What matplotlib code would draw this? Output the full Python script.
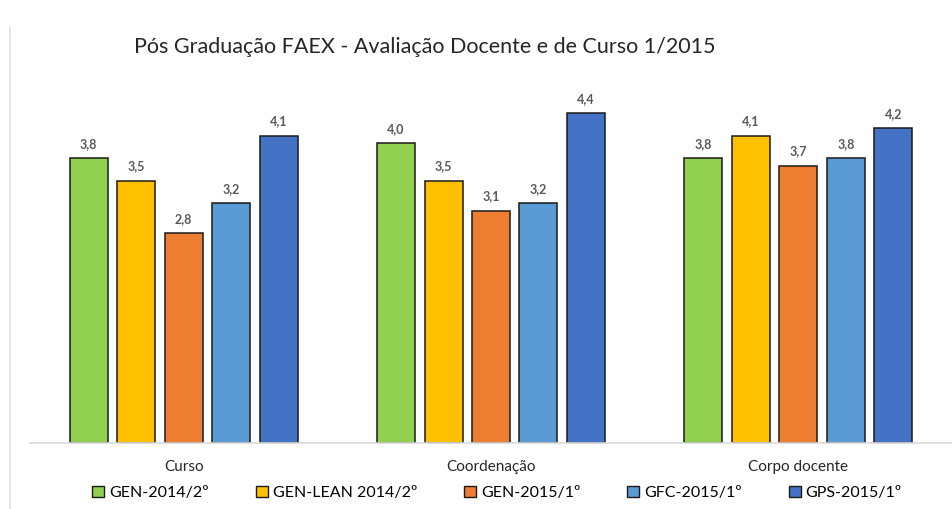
import matplotlib
matplotlib.use("Agg")
import matplotlib.pyplot as plt
import numpy as np
from matplotlib.lines import Line2D
from matplotlib.patches import Patch

plt.rcParams['font.family'] = ['Lato', 'DejaVu Sans']

categories = ["Curso", "Coordenação", "Corpo docente"]
series = ["GEN-2014/2º", "GEN-LEAN 2014/2º", "GEN-2015/1º", "GFC-2015/1º", "GPS-2015/1º"]
values = [
    [3.8, 4.0, 3.8],
    [3.5, 3.5, 4.1],
    [2.8, 3.1, 3.7],
    [3.2, 3.2, 3.8],
    [4.1, 4.4, 4.2],
]
colors = ["#92D050", "#FFC000", "#ED7D31", "#5B9BD5", "#4472C4"]
title = "Pós Graduação FAEX - Avaliação Docente e de Curso 1/2015"

fig = plt.figure(figsize=(9.52, 5.09), dpi=100)
ax = fig.add_axes([30/952, 1-443/509, 1-30/952, (443-68)/509])

x = np.arange(len(categories))
pitch = 0.1545
width = 0.1236
for i, (s, vals, c) in enumerate(zip(series, values, colors)):
    pos = x + (i - 2) * pitch
    bars = ax.bar(pos, vals, width, color=c, edgecolor="#1a1a1a", linewidth=1.1, label=s, zorder=2)
    for b, v in zip(bars, vals):
        ax.text(b.get_x() + b.get_width()/2, v + 0.11, f"{v:.1f}".replace(".", ","),
                ha="center", va="bottom", fontsize=9, fontweight="bold", color="#595959")

ax.set_xlim(-0.5, 2.5)
ax.set_ylim(0, 5)
ax.set_yticks([])
ax.set_xticks(x)
ax.set_xticklabels(categories, fontsize=11, color="#262626")
ax.tick_params(axis="x", length=0, pad=12)
for sp in ["top", "right", "left"]:
    ax.spines[sp].set_visible(False)
ax.spines["bottom"].set_color("#d9d9d9")
ax.spines["bottom"].set_linewidth(1.2)

fig.text(425/952, 1-47/509, title, ha="center", va="center", fontsize=15.5, color="#262626")

handles = [Patch(facecolor=c, edgecolor="#1a1a1a", linewidth=1.0) for c in colors]
fig.legend(handles, series, loc="center", bbox_to_anchor=(497/952, 1-493/509), ncol=5,
           frameon=False, handlelength=0.75, handleheight=0.75,
           handletextpad=0.3, columnspacing=2.95,
           prop={'family': ['Lato', 'DejaVu Sans'], 'size': 11.5})

fig.add_artist(Line2D([10/952, 10/952], [0, 1-27/509], color="#e0e0e0", linewidth=1.2))

fig.savefig("out.png", dpi=100)
